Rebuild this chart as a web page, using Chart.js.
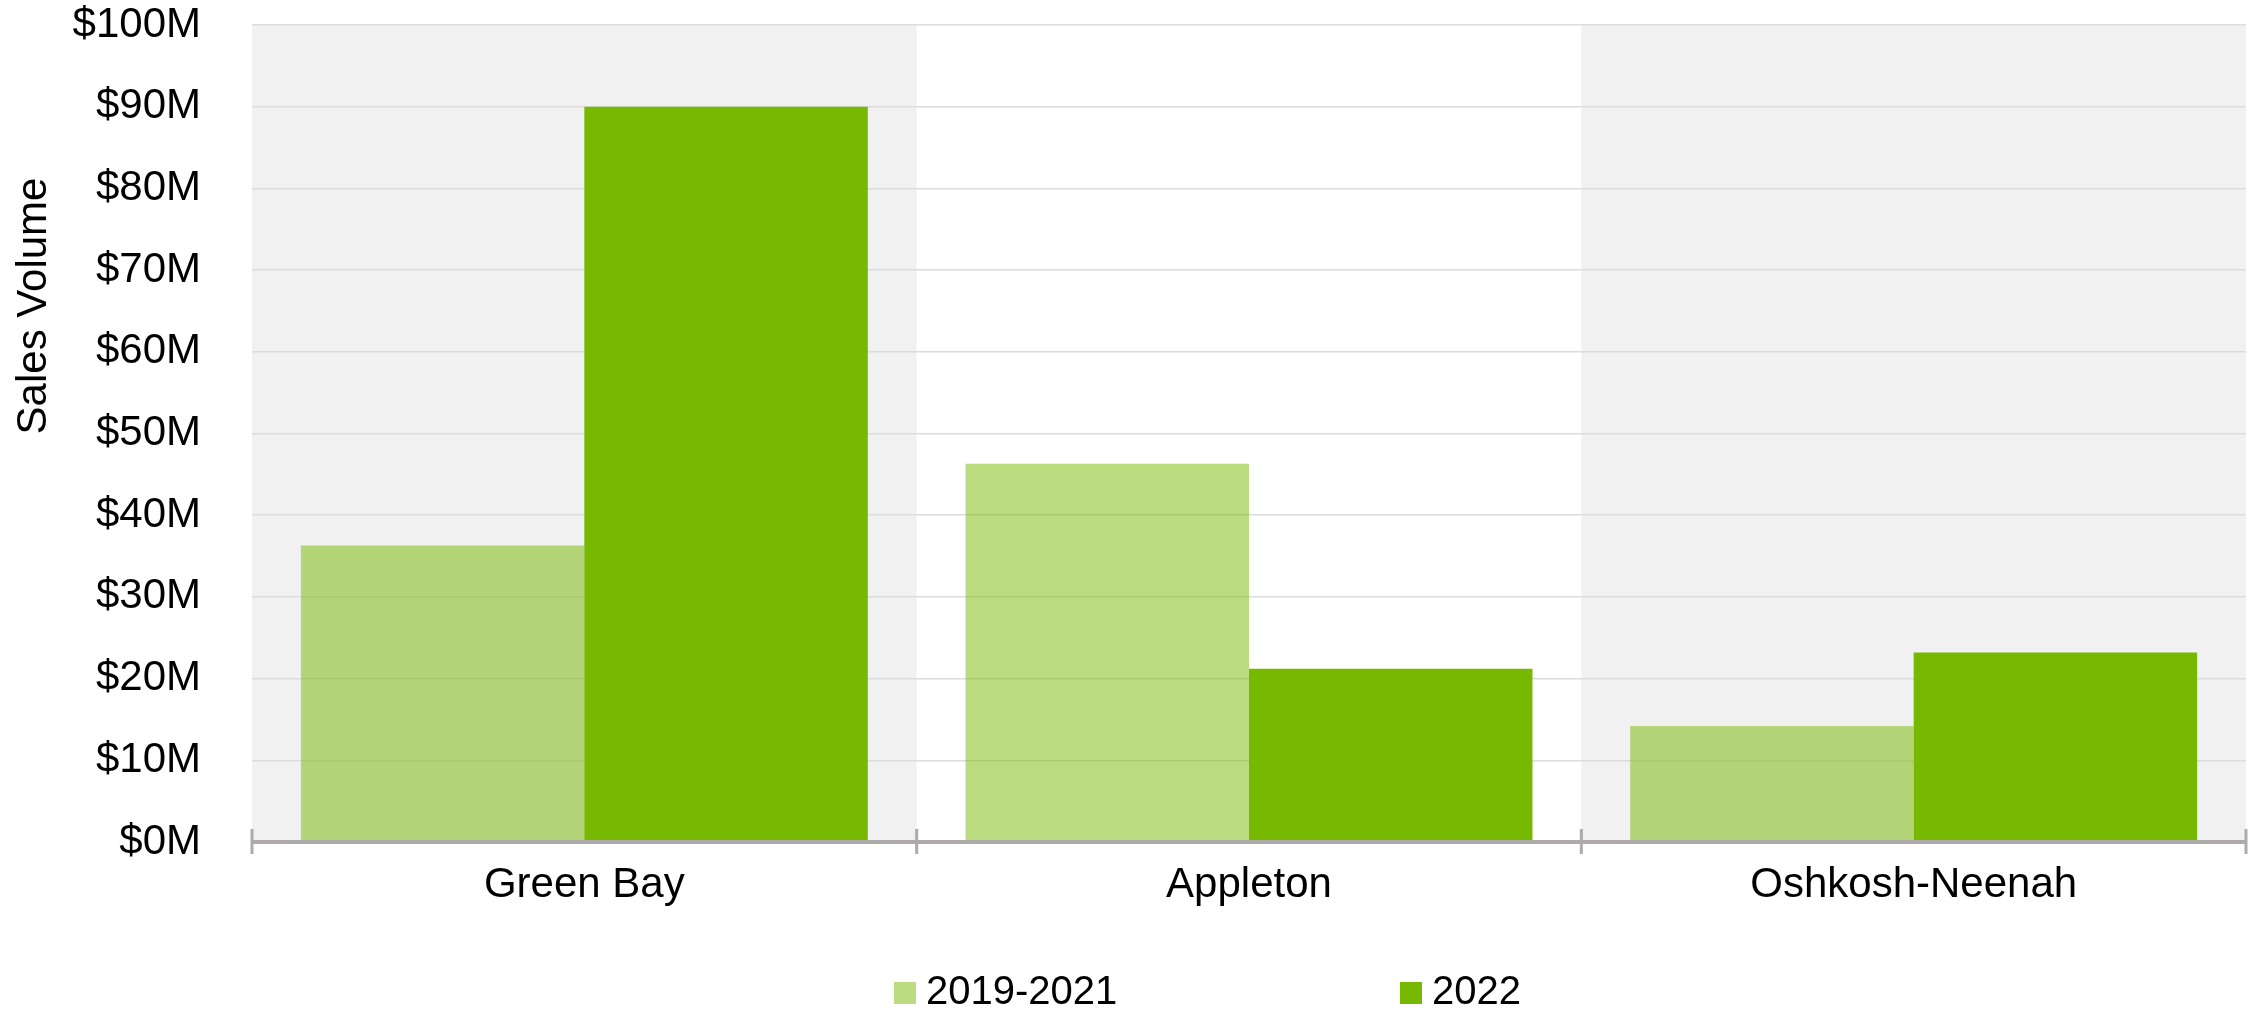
<!DOCTYPE html>
<html>
<head>
<meta charset="utf-8">
<title>Sales Volume by Market</title>
<script src="https://cdn.jsdelivr.net/npm/chart.js@4.4.0/dist/chart.umd.min.js"></script>
<style>
  html, body { margin: 0; padding: 0; background: #ffffff; }
  #wrap { width: 2262px; height: 1012px; }
</style>
</head>
<body>
<div id="wrap"><canvas id="chart" width="2262" height="1012"></canvas></div>
<script>
// Markets on the category axis
const markets = ['Green Bay', 'Appleton', 'Oshkosh-Neenah'];
// Series names
const seriesNames = ['2019-2021', '2022'];
// Sales volume, millions of dollars
const volume2019to2021 = [36.3, 46.3, 14.2];
const volume2022 = [90.0, 21.2, 23.2];
// Value axis range and step, millions of dollars
const yMin = 0;
const yMax = 100;
const yStep = 10;

const FONT = '"Liberation Sans", Arial, Helvetica, sans-serif';
const GREEN = '#76B900';
const GREEN_LIGHT = 'rgba(118, 185, 0, 0.5)';

// Shaded bands behind alternate categories
const bandPlugin = {
  id: 'bands',
  beforeDraw(chart) {
    const { ctx, chartArea, scales } = chart;
    const x = scales.x;
    const half = (x.getPixelForValue(1) - x.getPixelForValue(0)) / 2;
    ctx.save();
    ctx.fillStyle = '#F1F1F1';
    markets.forEach((m, i) => {
      if (i % 2 === 0) {
        const c = x.getPixelForValue(i);
        ctx.fillRect(c - half, chartArea.top, half * 2, chartArea.bottom - chartArea.top);
      }
    });
    ctx.restore();
  }
};

// Baseline with tick marks at the category boundaries
const baselinePlugin = {
  id: 'baseline',
  afterDatasetsDraw(chart) {
    const { ctx, chartArea, scales } = chart;
    const x = scales.x;
    const half = (x.getPixelForValue(1) - x.getPixelForValue(0)) / 2;
    const y = chartArea.bottom;
    ctx.save();
    ctx.strokeStyle = '#AEAAAA';
    ctx.lineWidth = 4;
    ctx.beginPath();
    ctx.moveTo(chartArea.left, y);
    ctx.lineTo(chartArea.right, y);
    ctx.stroke();
    ctx.lineWidth = 3;
    const edges = [x.getPixelForValue(0) - half].concat(markets.map((m, i) => x.getPixelForValue(i) + half));
    edges.forEach(px => {
      ctx.beginPath();
      ctx.moveTo(px, y - 13);
      ctx.lineTo(px, y + 12);
      ctx.stroke();
    });
    ctx.restore();
  }
};

// Rotated value-axis title and the legend row
const textPlugin = {
  id: 'texts',
  afterDraw(chart) {
    const { ctx } = chart;
    ctx.save();
    ctx.fillStyle = '#000000';
    ctx.font = '42px ' + FONT;
    ctx.textAlign = 'center';
    ctx.textBaseline = 'middle';
    ctx.translate(34, 306);
    ctx.rotate(-Math.PI / 2);
    ctx.fillText('Sales Volume', 0, 0);
    ctx.restore();

    ctx.save();
    ctx.font = '40px ' + FONT;
    ctx.textAlign = 'left';
    ctx.textBaseline = 'alphabetic';
    const starts = [894, 1400];
    chart.data.datasets.forEach((ds, i) => {
      const sx = starts[i];
      ctx.fillStyle = ds.legendColor;
      ctx.fillRect(sx, 982, 22, 22);
      ctx.fillStyle = '#000000';
      ctx.fillText(ds.label, sx + 32, 1004);
    });
    ctx.restore();
  }
};

new Chart(document.getElementById('chart'), {
  type: 'bar',
  data: {
    labels: markets,
    datasets: [
      {
        label: seriesNames[0],
        data: volume2019to2021,
        backgroundColor: GREEN_LIGHT,
        legendColor: '#BBDC80',
        borderWidth: 0,
        categoryPercentage: 0.853,
        barPercentage: 1.0
      },
      {
        label: seriesNames[1],
        data: volume2022,
        backgroundColor: GREEN,
        legendColor: GREEN,
        borderWidth: 0,
        categoryPercentage: 0.853,
        barPercentage: 1.0
      }
    ]
  },
  options: {
    responsive: false,
    animation: false,
    devicePixelRatio: 1,
    layout: { padding: { top: 25, right: 16, bottom: 0, left: 0 } },
    plugins: {
      legend: { display: false },
      tooltip: { enabled: false }
    },
    scales: {
      x: {
        grid: { display: false },
        border: { display: false },
        ticks: {
          color: '#000000',
          font: { family: FONT, size: 42 },
          padding: 10,
          maxRotation: 0
        },
        afterFit(scale) {
          scale.height = 170;
          scale.paddingLeft = 0;
          scale.paddingRight = 0;
        }
      },
      y: {
        min: yMin,
        max: yMax,
        grid: { color: '#DCDCDC', lineWidth: 1.5, drawTicks: false },
        border: { display: false },
        ticks: {
          stepSize: yStep,
          color: '#000000',
          font: { family: FONT, size: 42 },
          padding: 51,
          callback: v => '$' + v + 'M'
        },
        afterFit(scale) {
          scale.width = 252;
          scale.paddingTop = 0;
          scale.paddingBottom = 0;
        }
      }
    }
  },
  plugins: [bandPlugin, baselinePlugin, textPlugin]
});
</script>
</body>
</html>
